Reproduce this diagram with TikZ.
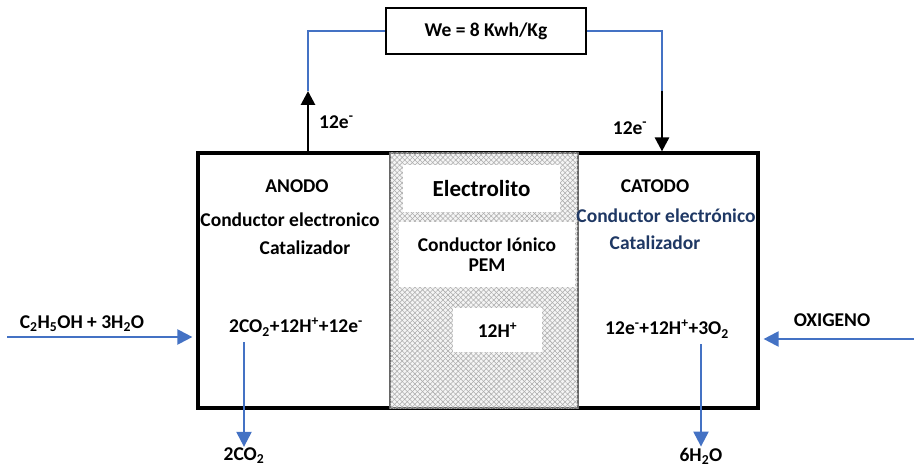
\documentclass[tikz,border=0pt]{standalone}
\usepackage{fontspec}
\setmainfont{Carlito}
\usepackage{xcolor}
\usepackage{tikz}
\usetikzlibrary{arrows.meta,positioning,calc,patterns.meta}
\definecolor{flowblue}{RGB}{68,114,196}
\definecolor{catblue}{RGB}{31,56,100}

\begin{document}
\begin{tikzpicture}[x=1pt,y=-1pt,
  txt/.style={font=\bfseries\fontsize{19.5}{23}\selectfont,inner sep=1pt},
  bigtxt/.style={font=\bfseries\fontsize{23}{26}\selectfont},
  cellbox/.style={draw=black,line width=3.2pt,minimum width=560pt,minimum height=255pt,inner sep=0pt},
  loadbox/.style={draw=black,line width=2.6pt,minimum width=200pt,minimum height=46pt,inner sep=0pt},
  elec/.style={draw=gray!80!black,line width=1.8pt,fill=gray!8,minimum width=188pt,minimum height=255pt,inner sep=0pt,
    postaction={pattern={Lines[angle=45,distance=3.6pt,line width=0.55pt]},pattern color=gray!65},
    postaction={pattern={Lines[angle=-45,distance=3.6pt,line width=0.55pt]},pattern color=gray!65}},
  patch/.style={fill=white,inner sep=0pt,align=center},
  wire/.style={flowblue,line width=1.4pt},
  earrow/.style={-{Triangle[length=14pt,width=14pt]},line width=2.8pt},
  flow/.style={-{Triangle[length=15pt,width=15pt]},flowblue,line width=2.2pt}]
\useasboundingbox (0,0) rectangle (914,468);

\node[cellbox] (cell) at (478,280.5) {};
\node[elec] (pem) at (484,280.5) {};

\node[loadbox] (load) at (486,31) {};
\node[txt] at (load) {We = 8 Kwh/Kg};

\node[patch,bigtxt,minimum width=157pt,minimum height=47pt] (lbl) at (481.5,188.5) {Electrolito};
\node[patch,txt,minimum width=176pt,minimum height=65pt] (ion) at (487,254.5) {Conductor Iónico\\[-3pt]PEM};
\node[patch,txt,minimum width=89pt,minimum height=44pt] (prot) at (497.5,330) {12H\textsuperscript{+}};

\node[txt] (ano) at (297,186) {ANODO};
\node[txt] (anocond) at (290,220) {Conductor electronico};
\node[txt] (anocat) at (305,248) {Catalizador};

\node[txt] (cat) at (655,186) {CATODO};
\node[txt,catblue] (catcond) at (666,216) {Conductor electrónico};
\node[txt,catblue] (catcat) at (655,243) {Catalizador};

\node[txt] (reacA) at (296,327) {2CO\textsubscript{2}+12H\textsuperscript{+}+12e\textsuperscript{-}};
\node[txt] (reacC) at (667,329) {12e\textsuperscript{-}+12H\textsuperscript{+}+3O\textsubscript{2}};

\node[txt] (prodA) at (244,456) {2CO\textsubscript{2}};
\node[txt] (prodC) at (701,456) {6H\textsubscript{2}O};
\node[txt] (fuel) at (82,324) {C\textsubscript{2}H\textsubscript{5}OH + 3H\textsubscript{2}O};
\node[txt] (oxy) at (832,320) {OXIGENO};

\node[txt,anchor=west] (eA) at (318,122) {12e\textsuperscript{-}};
\node[txt] (eC) at (630,128) {12e\textsuperscript{-}};

\coordinate (upA) at (308,91);
\coordinate (dnC) at (662,91);
\coordinate (fuelin) at (7,337);
\coordinate (oxin) at (914,339);

\draw[earrow] (cell.north -| upA) -- (upA);
\draw[wire] (upA) |- (load.west);
\draw[wire] (load.east) -| (dnC);
\draw[earrow] (dnC) -- (cell.north -| dnC);

\draw[flow] (reacA.south -| prodA) ++(0,5) -- (prodA.north);
\draw[flow] (reacC.south -| prodC) ++(0,5) -- (prodC.north);
\draw[flow,shorten >=4pt] (fuelin) -- (fuelin -| cell.west);
\draw[flow,shorten >=4pt] (oxin) -- (oxin -| cell.east);
\end{tikzpicture}
\end{document}
